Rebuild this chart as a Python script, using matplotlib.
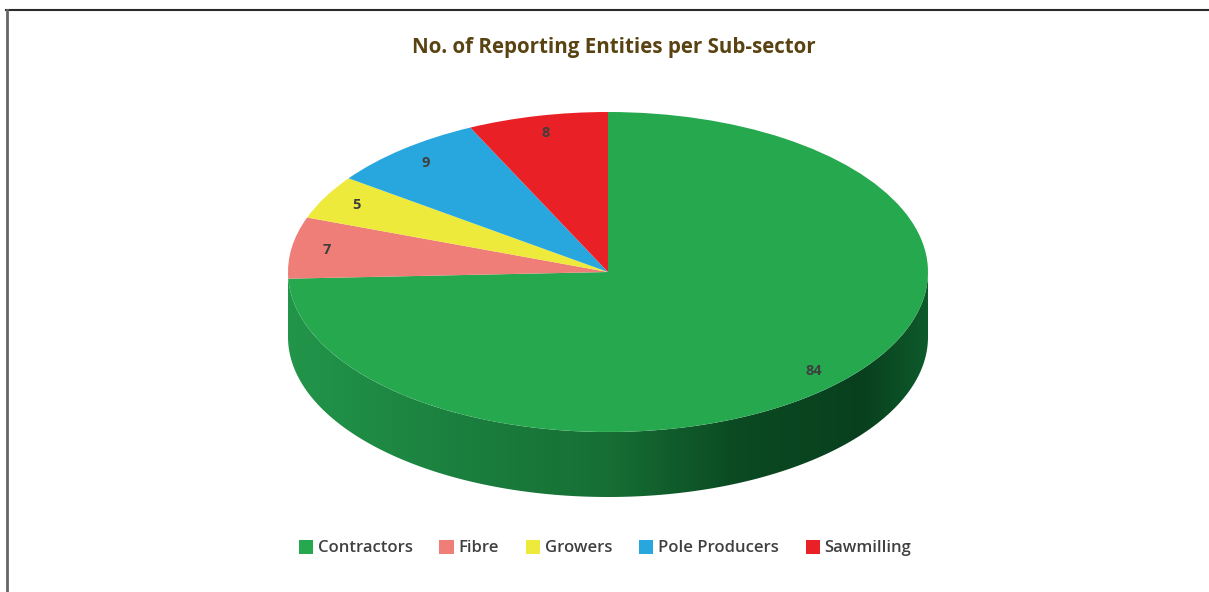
import numpy as np
import matplotlib
matplotlib.use("Agg")
import matplotlib.pyplot as plt
from matplotlib.colors import LinearSegmentedColormap
from matplotlib.patches import Polygon
from matplotlib.lines import Line2D


# Data
sectors = ["Contractors", "Fibre", "Growers", "Pole Producers", "Sawmilling"]
counts = [84, 7, 5, 9, 8]
colors = ["#25a84e", "#f07e78", "#eeea3c", "#28a7df", "#e92127"]

title = "No. of Reporting Entities per Sub-sector"
total = sum(counts)

# Figure, pixel layout
W, H = 1209, 592
fig = plt.figure(figsize=(W / 100, H / 100), dpi=100)
ax = fig.add_axes([0, 0, 1, 1])

# ellipse: rx 320 px, ry 160 px, centre (608, 272) from top
rx, ry = 320, 160
cx, cy = 608, H - 272
depth = 65 / ry

# Side wall (front half) with gradient
theta = np.linspace(np.pi, 2 * np.pi, 200)
top_x, top_y = np.cos(theta), np.sin(theta)
wall = np.concatenate([
    np.column_stack([top_x, top_y]),
    np.column_stack([top_x[::-1], top_y[::-1] - depth]),
])
wall_patch = Polygon(wall, closed=True, facecolor="none", edgecolor="none")
ax.add_patch(wall_patch)

wall_cmap = LinearSegmentedColormap.from_list(
    "wall",
    [(0.0, "#22954a"), (0.3, "#1a7d3d"), (0.5, "#166f35"),
     (0.7, "#0b4a22"), (0.9, "#08401e"), (1.0, "#0e5a2b")],
)
grad = np.linspace(0, 1, 256).reshape(1, -1)
img = ax.imshow(grad, cmap=wall_cmap, aspect="auto",
                extent=(-1, 1, -1 - depth, 0.1), zorder=1)
img.set_clip_path(wall_patch)

# Top face
wedges, texts, autotexts = ax.pie(
    counts,
    colors=colors,
    startangle=90,
    counterclock=False,
    autopct=lambda p: f"{round(p * total / 100)}",
    pctdistance=0.89,
    wedgeprops={"linewidth": 0},
    textprops={"fontsize": 10.5, "fontweight": "bold", "color": "#3f3f3f",
               "family": "Open Sans"},
)
for w in wedges:
    w.set_zorder(2)
for t in autotexts:
    t.set_zorder(3)

ax.set_aspect("auto")
ax.set_xlim(-cx / rx, (W - cx) / rx)
ax.set_ylim(-cy / ry, (H - cy) / ry)
ax.axis("off")

# Title
fig.text(614 / W, 1 - 47 / H, title, ha="center", va="center",
         fontsize=14.8, fontweight="bold", color="#5a4312", family="Open Sans")

# Legend
leg = fig.legend(
    wedges, sectors,
    loc="center", bbox_to_anchor=(605 / W, 1 - 548 / H),
    ncol=5, frameon=False,
    handlelength=0.85, handleheight=0.9, handletextpad=0.3,
    columnspacing=1.6,
    prop={"family": "Open Sans", "size": 12, "weight": "semibold"},
)
for t in leg.get_texts():
    t.set_color("#404040")

# Frame lines
fig.add_artist(Line2D([6 / W, 1], [1 - 10 / H, 1 - 10 / H],
                      color="#2a2a2a", linewidth=1.5))
fig.add_artist(Line2D([6.5 / W, 6.5 / W], [0, 1 - 10 / H],
                      color="#666666", linewidth=2))

fig.savefig("out.png", dpi=100)
